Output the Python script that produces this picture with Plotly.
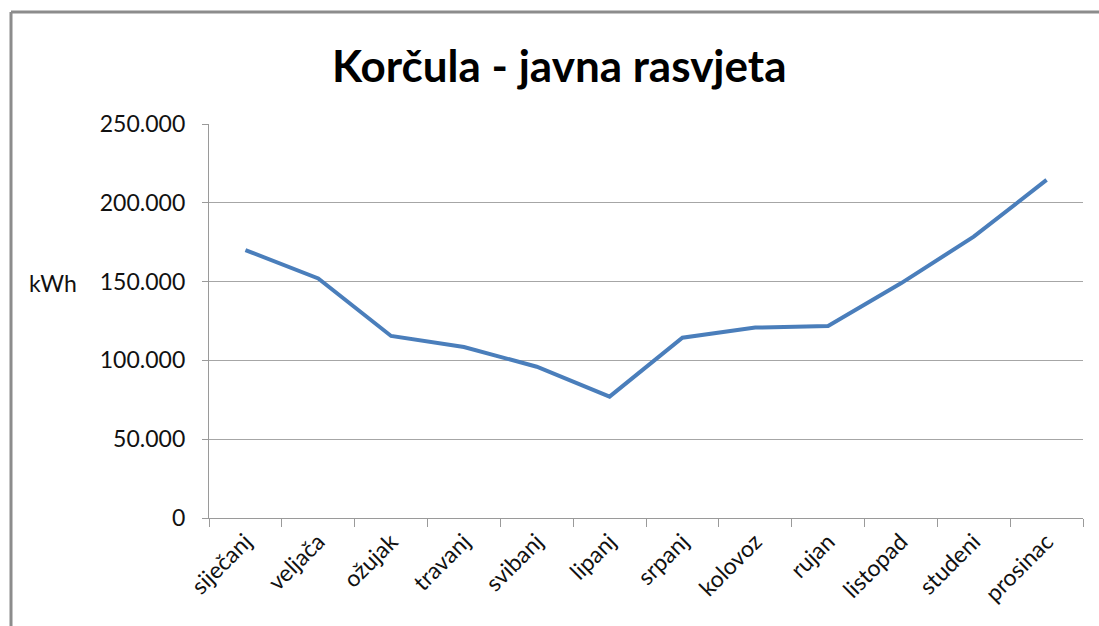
import plotly.graph_objects as go

months = ["siječanj", "veljača", "ožujak", "travanj", "svibanj", "lipanj",
          "srpanj", "kolovoz", "rujan", "listopad", "studeni", "prosinac"]
kwh = [170000, 152000, 115500, 108500, 96000, 77000,
       114400, 120800, 121800, 148900, 178500, 214500]
y_ticks = [0, 50000, 100000, 150000, 200000, 250000]

W, H = 1099, 626
L, R, T, B = 209, 16, 124, 108
pw, ph = W - L - R, H - T - B

def px_x(x):
    return (x - L) / pw

def px_y(y):
    return (H - B - y) / ph

fig = go.Figure()
fig.add_trace(go.Scatter(
    x=months, y=kwh, mode="lines",
    line=dict(color="#4a7ebb", width=4),
    hoverinfo="x+y",
))

font_family = "Lato, 'Open Sans', sans-serif"

fig.update_layout(
    width=W, height=H,
    margin=dict(l=L, r=R, t=T, b=B),
    paper_bgcolor="white", plot_bgcolor="white",
    separators=",.",
    showlegend=False,
    font=dict(family=font_family, size=23, color="#111111"),
    xaxis=dict(
        type="category", range=[-0.5, 11.5],
        tickson="boundaries", ticks="outside", ticklen=8, tickcolor="#9a9a9a",
        showline=True, linecolor="#9a9a9a", linewidth=1.3,
        showgrid=False, tickangle=-45, zeroline=False,
        tickfont=dict(size=23),
    ),
    yaxis=dict(
        range=[0, 250000], tickvals=y_ticks, tickformat=",d",
        ticks="outside", ticklen=6, tickcolor="#9a9a9a",
        showline=True, linecolor="#9a9a9a", linewidth=1.3,
        showgrid=True, gridcolor="#a6a6a6", gridwidth=1.3,
        zeroline=False, tickfont=dict(size=23), ticklabelstandoff=12,
    ),
    shapes=[
        dict(type="line", xref="paper", yref="paper",
             x0=px_x(11), x1=px_x(11), y0=px_y(12), y1=px_y(640),
             line=dict(color="#8c8c8c", width=3)),
        dict(type="line", xref="paper", yref="paper",
             x0=px_x(11), x1=px_x(1110), y0=px_y(12), y1=px_y(12),
             line=dict(color="#8c8c8c", width=3)),
    ],
    annotations=[
        dict(text="<b>Korčula - javna rasvjeta</b>", xref="paper", yref="paper",
             x=px_x(559), y=px_y(65), showarrow=False,
             xanchor="center", yanchor="middle",
             font=dict(size=44, color="black", family=font_family)),
        dict(text="kWh", xref="paper", yref="paper",
             x=px_x(53), y=px_y(283), showarrow=False,
             xanchor="center", yanchor="middle",
             font=dict(size=23, color="#111111", family=font_family)),
    ],
)

fig.write_html("out.html", config={"displayModeBar": False},
               post_script="document.body.style.margin='0';")
